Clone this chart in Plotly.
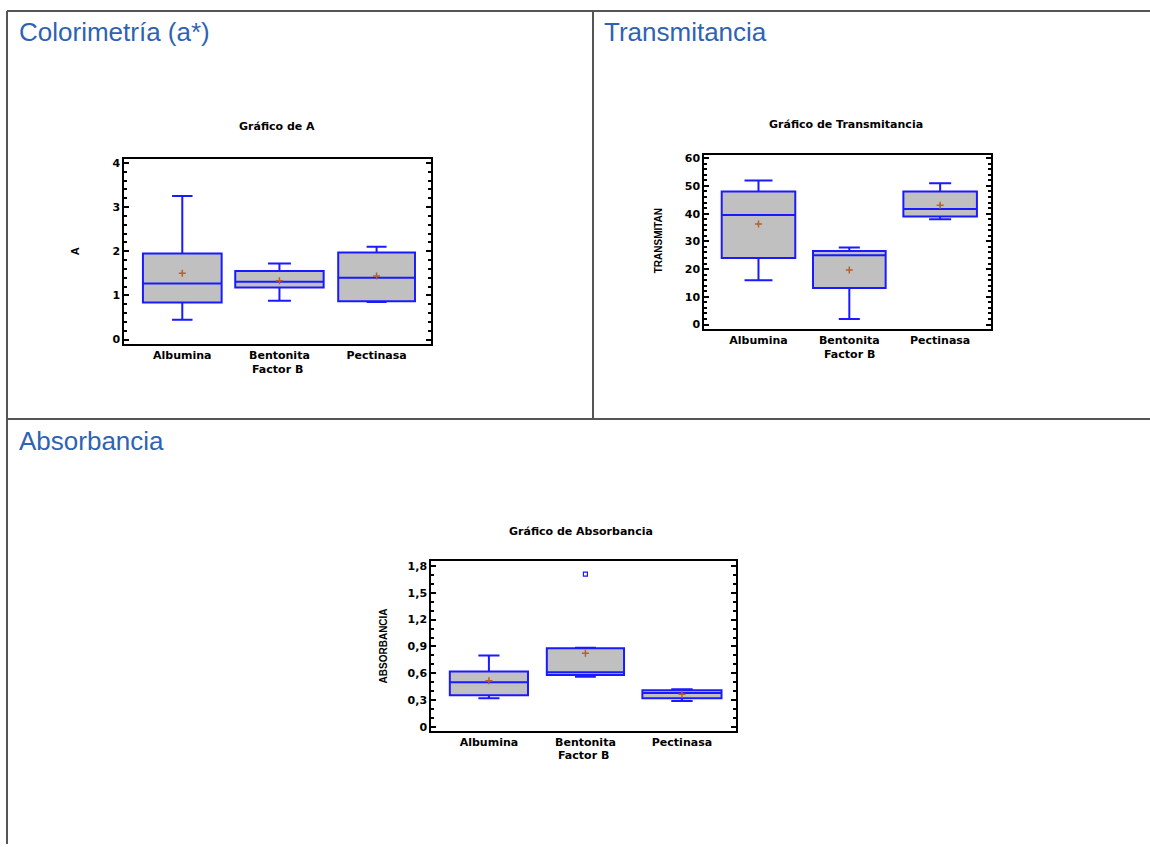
import plotly.graph_objects as go

W, H = 1150, 847

groups = ["Albumina", "Bentonita", "Pectinasa"]

# Colorimetría (a*) -- A
a_low = [0.45, 0.88, 0.85]
a_q1 = [0.84, 1.18, 0.87]
a_med = [1.27, 1.31, 1.40]
a_q3 = [1.95, 1.55, 1.97]
a_high = [3.25, 1.72, 2.10]
a_mean = [1.50, 1.33, 1.44]

# Transmitancia
t_low = [16.0, 2.0, 38.0]
t_q1 = [24.0, 13.2, 39.0]
t_med = [39.5, 25.0, 41.7]
t_q3 = [48.0, 26.5, 48.0]
t_high = [52.0, 27.8, 51.0]
t_mean = [36.3, 19.7, 43.0]

# Absorbancia
b_low = [0.32, 0.56, 0.29]
b_q1 = [0.355, 0.58, 0.32]
b_med = [0.50, 0.61, 0.38]
b_q3 = [0.62, 0.88, 0.41]
b_high = [0.80, 0.885, 0.42]
b_mean = [0.515, 0.825, 0.365]
b_outlier_group = ["Bentonita"]
b_outlier_val = [1.71]

a_ticks = [0, 1, 2, 3, 4]
a_ticktext = ["0", "1", "2", "3", "4"]
t_ticks = [0, 10, 20, 30, 40, 50, 60]
t_ticktext = ["0", "10", "20", "30", "40", "50", "60"]
b_ticks = [0, 0.3, 0.6, 0.9, 1.2, 1.5, 1.8]
b_ticktext = ["0", "0,3", "0,6", "0,9", "1,2", "1,5", "1,8"]

BLUE = "#1a1aff"
FILL = "#c0c0c0"
MEANC = "#b4622a"
FONT = "Liberation Sans, Arial, sans-serif"
WIDE = "DejaVu Sans, Verdana, sans-serif"

fig = go.Figure()

def px_x(p):
    return p / W

def px_y(p):
    return 1 - p / H

panels = [
    dict(ax="", low=a_low, q1=a_q1, med=a_med, q3=a_q3, high=a_high, mean=a_mean,
         widths=[0.81, 0.91, 0.79], ww=[0.26, 0.26, 0.26]),
    dict(ax="2", low=t_low, q1=t_q1, med=t_med, q3=t_q3, high=t_high, mean=t_mean,
         widths=[0.81, 0.80, 0.81], ww=[0.38, 0.29, 0.30]),
    dict(ax="3", low=b_low, q1=b_q1, med=b_med, q3=b_q3, high=b_high, mean=b_mean,
         widths=[0.81, 0.80, 0.82], ww=[0.27, 0.27, 0.27]),
]

for p in panels:
    for i, g in enumerate(groups):
        fig.add_trace(go.Box(
            x=[g], q1=[p["q1"][i]], median=[p["med"][i]], q3=[p["q3"][i]],
            lowerfence=[p["low"][i]], upperfence=[p["high"][i]],
            width=p["widths"][i], whiskerwidth=p["ww"][i],
            fillcolor=FILL, line=dict(color=BLUE, width=2),
            boxpoints=False, showlegend=False,
            xaxis="x" + p["ax"], yaxis="y" + p["ax"],
        ))
    fig.add_trace(go.Scatter(
        x=groups, y=p["mean"], mode="markers",
        marker=dict(symbol="cross-thin", size=5, line=dict(color=MEANC, width=1.5)),
        showlegend=False, xaxis="x" + p["ax"], yaxis="y" + p["ax"],
    ))

fig.add_trace(go.Scatter(
    x=b_outlier_group, y=b_outlier_val, mode="markers",
    marker=dict(symbol="square-open", size=4, color=BLUE, line=dict(color=BLUE, width=1.2)),
    showlegend=False, xaxis="x3", yaxis="y3",
))

tickfont = dict(family=WIDE, size=11, color="black", weight="bold")

def xax(dom, anchor):
    return dict(domain=dom, anchor=anchor, type="category", range=[-0.6, 2.56],
                showline=True, linecolor="black", linewidth=1.5, mirror=True,
                ticks="", showgrid=False, zeroline=False, tickfont=tickfont,
                categoryorder="array", categoryarray=groups)

def yax(dom, anchor, rng, tv, tt, minor):
    return dict(domain=dom, anchor=anchor, range=rng, tickvals=tv, ticktext=tt,
                showline=True, linecolor="black", linewidth=1.5, mirror="ticks",
                ticks="inside", ticklen=5, tickwidth=1.5, tickcolor="black",
                minor=dict(ticks="inside", ticklen=3, dtick=minor, tickcolor="black"),
                showgrid=False, zeroline=False, tickfont=tickfont)

# plot area pixel boxes
c1 = (124, 431, 157, 343)
c2 = (704, 991, 153, 328)
c3 = (431, 736, 562, 733)

def dom(c):
    return [px_x(c[0]), px_x(c[1])], [px_y(c[3]), px_y(c[2])]

d1x, d1y = dom(c1)
d2x, d2y = dom(c2)
d3x, d3y = dom(c3)

fig.update_layout(
    width=W, height=H, margin=dict(l=0, r=0, t=0, b=0),
    paper_bgcolor="white", plot_bgcolor="white", boxmode="overlay",
    xaxis=xax(d1x, "y"), yaxis=yax(d1y, "x", [-0.09, 4.09], a_ticks, a_ticktext, 0.2),
    xaxis2=xax(d2x, "y2"), yaxis2=yax(d2y, "x2", [-1.5, 61.2], t_ticks, t_ticktext, 2),
    xaxis3=xax(d3x, "y3"), yaxis3=yax(d3y, "x3", [-0.044, 1.856], b_ticks, b_ticktext, 0.1),
)

line_c = "#555555"
shapes = [
    dict(x0=7, x1=W, y0=8, y1=8),
    dict(x0=7, x1=7, y0=8, y1=H),
    dict(x0=593, x1=593, y0=8, y1=419),
    dict(x0=7, x1=W, y0=419, y1=419),
]
for s in shapes:
    fig.add_shape(type="line", xref="paper", yref="paper",
                  x0=px_x(s["x0"]), x1=px_x(s["x1"]), y0=px_y(s["y0"]), y1=px_y(s["y1"]),
                  line=dict(color=line_c, width=2))

def ann(text, x, y, size, color="black", bold=False, angle=0, xanchor="center", family=FONT):
    fig.add_annotation(text=text, x=px_x(x), y=px_y(y), xref="paper", yref="paper",
                       showarrow=False, textangle=angle, xanchor=xanchor, yanchor="middle",
                       font=dict(family=family, size=size, color=color,
                                 weight="bold" if bold else "normal"))

PANEL_C = "#2e63b3"
ann("Colorimetría (a*)", 17, 29, 26, PANEL_C, xanchor="left")
ann("Transmitancia", 602, 29, 26, PANEL_C, xanchor="left")
ann("Absorbancia", 17, 441, 26, PANEL_C, xanchor="left")

ann("Gráfico de A", 277, 124, 11, bold=True, family=WIDE)
ann("Gráfico de Transmitancia", 846, 122, 11, bold=True, family=WIDE)
ann("Gráfico de Absorbancia", 581, 532, 11, bold=True, family=WIDE)

ann("Factor B", 277, 369, 11, bold=True, family=WIDE)
ann("Factor B", 849, 354, 11, bold=True, family=WIDE)
ann("Factor B", 583, 758, 11, bold=True, family=WIDE)

ann("A", 75, 250, 11, bold=True, angle=-90)
ann("TRANSMITAN", 658, 240, 10, bold=True, angle=-90)
ann("ABSORBANCIA", 383, 648, 10, bold=True, angle=-90)

fig.write_html("out.html")
